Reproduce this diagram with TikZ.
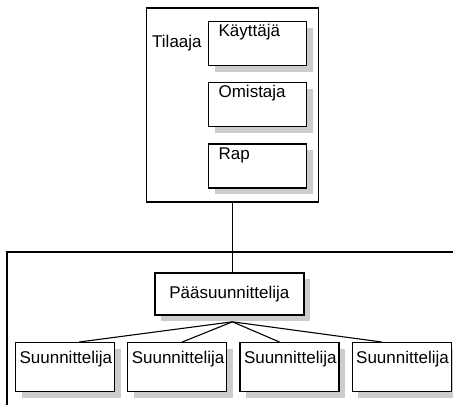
\documentclass[tikz,border=0pt]{standalone}
\usepackage{fontspec}
\setmainfont{Liberation Sans}
\usepackage{tikz}
\usetikzlibrary{positioning,shadows,calc}

\begin{document}
\begin{tikzpicture}[x=1pt,y=-1pt,
    every node/.style={font=\fontsize{17pt}{20pt}\selectfont,inner sep=0pt},
    varjo/.style={drop shadow={shadow xshift=6pt,shadow yshift=-6pt,fill=black!20,opacity=1}},
    osa/.style={draw,fill=white,line width=1.2pt,varjo,anchor=north west,
      inner xsep=10pt,inner ysep=4pt,text width=78pt,text height=11pt,text depth=25pt,align=left},
    suun/.style={draw,fill=white,line width=1.2pt,varjo,anchor=north west,
      inner xsep=4pt,inner ysep=9pt,text width=91pt,text height=12pt,text depth=19pt,align=left}]
    \useasboundingbox (0,0) rectangle (453,405);
    % tilaajan ryhma
    \node[draw,line width=1.8pt,minimum width=172pt,minimum height=194pt,anchor=north west] (ryhma) at (145.5,7) {};
    \node[anchor=base west] (tilaaja) at (152,47) {Tilaaja};
    \node[osa] (kayttaja) at (208,21) {Käyttäjä};
    \node[osa,below=16pt of kayttaja] (omistaja) {Omistaja};
    \node[osa,below=16pt of omistaja] (rap) {Rap};
    % suunnitteluryhma
    \coordinate (kulma) at (7,405);
    \coordinate (reuna) at (453,252);
    \draw[line width=1.1pt] (kulma) |- (reuna);
    \node[draw,fill=white,line width=1.8pt,varjo,minimum width=149pt,minimum height=42pt,anchor=north west] (paa) at (154,272) {Pääsuunnittelija};
    \draw[line width=1.1pt] (ryhma.south) -- (ryhma.south |- paa.north);
    \coordinate (haara) at ($(ryhma.south |- paa.south)+(0,6)$);
    \node[suun] (s1) at (15,342) {Suunnittelija};
    \node[suun,right=12pt of s1] (s2) {Suunnittelija};
    \node[suun,right=12pt of s2] (s3) {Suunnittelija};
    \node[suun,right=12pt of s3] (s4) {Suunnittelija};
    \foreach \s/\f in {s1/0.64,s2/0.55,s3/0.40,s4/0.30}
      \draw[line width=1.1pt] (haara) -- ($(\s.north west)!\f!(\s.north east)$);
\end{tikzpicture}
\end{document}
